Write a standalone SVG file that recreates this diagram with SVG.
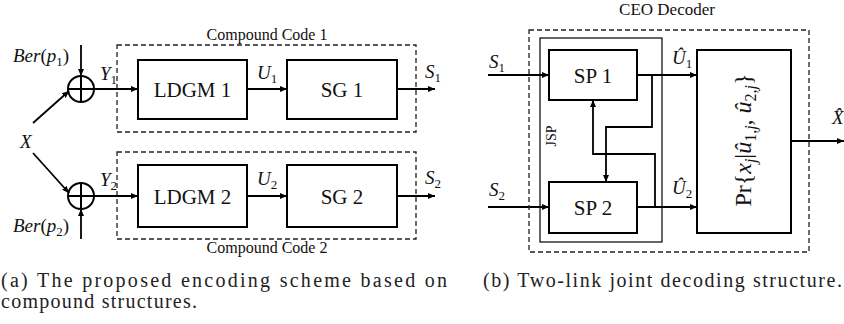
<svg xmlns="http://www.w3.org/2000/svg" width="844" height="324" viewBox="0 0 844 324">
<style>
.box{fill:none;stroke:#000;stroke-width:2}
.dash{fill:none;stroke:#222;stroke-width:1.3;stroke-dasharray:5 3}
.thin{fill:none;stroke:#000;stroke-width:1.2}
.wire{fill:none;stroke:#000;stroke-width:1.8}
.t{font-family:"Liberation Serif","DejaVu Serif",serif;fill:#111}
.m{font-family:"Liberation Serif","DejaVu Serif",serif;font-style:italic;fill:#111}
.u{font-style:normal}
.cap{font-family:"Liberation Serif","DejaVu Serif",serif;fill:#222;font-size:20px}
</style>
<defs>
<marker id="ah" markerUnits="userSpaceOnUse" markerWidth="7" markerHeight="6" refX="7" refY="3" orient="auto">
<path d="M0,0 L7,3 L0,6 z" fill="#000"/>
</marker>
</defs>

<!-- Encoder -->
<g id="compound1">
<rect class="dash" x="117" y="45" width="299" height="87"/>
<text class="t" x="267" y="40" font-size="16" text-anchor="middle">Compound Code 1</text>
</g>
<g id="compound2">
<rect class="dash" x="117" y="152" width="299" height="87"/>
<text class="t" x="267" y="253" font-size="16" text-anchor="middle">Compound Code 2</text>
</g>
<g id="ldgm1">
<rect class="box" x="138" y="60" width="109" height="59"/>
<text class="t" x="192.5" y="97" font-size="21" text-anchor="middle">LDGM 1</text>
</g>
<g id="sg1">
<rect class="box" x="287" y="60" width="110" height="59"/>
<text class="t" x="342" y="97" font-size="21" text-anchor="middle">SG 1</text>
</g>
<g id="ldgm2">
<rect class="box" x="138" y="165" width="109" height="62"/>
<text class="t" x="192.5" y="204" font-size="21" text-anchor="middle">LDGM 2</text>
</g>
<g id="sg2">
<rect class="box" x="287" y="165" width="110" height="62"/>
<text class="t" x="342" y="204" font-size="21" text-anchor="middle">SG 2</text>
</g>
<g id="xor1">
<circle class="box" cx="81" cy="89" r="13"/>
<path class="box" d="M68,89 H94 M81,76 V102"/>
</g>
<g id="xor2">
<circle class="box" cx="81" cy="196" r="13"/>
<path class="box" d="M68,196 H94 M81,183 V209"/>
</g>
<g id="ber1"><text class="m" x="13" y="62" font-size="19">Ber<tspan class="u">(</tspan>p<tspan font-size="13" dy="4" class="u">1</tspan><tspan dy="-4" class="u">)</tspan></text></g>
<g id="ber2"><text class="m" x="13" y="232" font-size="19">Ber<tspan class="u">(</tspan>p<tspan font-size="13" dy="4" class="u">2</tspan><tspan dy="-4" class="u">)</tspan></text></g>
<g id="x"><text class="m" x="20" y="148" font-size="19">X</text></g>

<g id="connectors">
<line class="wire" x1="81" y1="45" x2="81" y2="76" marker-end="url(#ah)"/>
<line class="wire" x1="81" y1="239" x2="81" y2="209" marker-end="url(#ah)"/>
<line class="wire" x1="33" y1="123" x2="69" y2="91" marker-end="url(#ah)"/>
<line class="wire" x1="33" y1="153" x2="69" y2="193" marker-end="url(#ah)"/>
<line class="wire" x1="94" y1="89" x2="138" y2="89" marker-end="url(#ah)"/>
<line class="wire" x1="247" y1="89" x2="287" y2="89" marker-end="url(#ah)"/>
<line class="wire" x1="397" y1="89" x2="435" y2="89" marker-end="url(#ah)"/>
<line class="wire" x1="94" y1="196" x2="138" y2="196" marker-end="url(#ah)"/>
<line class="wire" x1="247" y1="196" x2="287" y2="196" marker-end="url(#ah)"/>
<line class="wire" x1="397" y1="196" x2="435" y2="196" marker-end="url(#ah)"/>

<line class="wire" x1="488" y1="75" x2="549" y2="75" marker-end="url(#ah)"/>
<line class="wire" x1="637" y1="75" x2="697" y2="75" marker-end="url(#ah)"/>
<line class="wire" x1="488" y1="207" x2="549" y2="207" marker-end="url(#ah)"/>
<line class="wire" x1="637" y1="207" x2="697" y2="207" marker-end="url(#ah)"/>
<polyline class="wire" points="652,75 652,127 606,127 606,182" marker-end="url(#ah)"/>
<polyline class="wire" points="655,207 655,154 593,154 593,100" marker-end="url(#ah)"/>
<line class="wire" x1="791" y1="141" x2="844" y2="141" marker-end="url(#ah)"/>
</g>

<g id="edge-labels">
<text class="m" x="100" y="80" font-size="19">Y<tspan class="u" font-size="13" dy="4">1</tspan></text>
<text class="m" x="100" y="186" font-size="19">Y<tspan class="u" font-size="13" dy="4">2</tspan></text>
<text class="m" x="257" y="79" font-size="19">U<tspan class="u" font-size="13" dy="4">1</tspan></text>
<text class="m" x="257" y="185" font-size="19">U<tspan class="u" font-size="13" dy="4">2</tspan></text>
<text class="m" x="425" y="78" font-size="19">S<tspan class="u" font-size="13" dy="4">1</tspan></text>
<text class="m" x="425" y="184" font-size="19">S<tspan class="u" font-size="13" dy="4">2</tspan></text>
<text class="m" x="489" y="68" font-size="19">S<tspan class="u" font-size="13" dy="4">1</tspan></text>
<text class="m" x="489" y="196" font-size="19">S<tspan class="u" font-size="13" dy="4">2</tspan></text>
<text class="m" x="672" y="64" font-size="19">Û<tspan class="u" font-size="13" dy="4">1</tspan></text>
<text class="m" x="672" y="194" font-size="19">Û<tspan class="u" font-size="13" dy="4">2</tspan></text>
<text class="m" x="832" y="124" font-size="19">X̂</text>
</g>

<!-- Decoder -->
<g id="ceo">
<rect class="dash" x="529" y="30" width="280" height="222"/>
<text class="t" x="667" y="15" font-size="17" text-anchor="middle">CEO Decoder</text>
</g>
<g id="jsp">
<rect class="thin" x="540" y="38" width="122" height="204"/>
<text class="t" transform="translate(556,136) rotate(-90)" font-size="14" text-anchor="middle">JSP</text>
</g>
<g id="sp1">
<rect class="box" x="549" y="50" width="88" height="50"/>
<text class="t" x="593" y="83" font-size="21" text-anchor="middle">SP 1</text>
</g>
<g id="sp2">
<rect class="box" x="549" y="182" width="88" height="51"/>
<text class="t" x="593" y="215" font-size="21" text-anchor="middle">SP 2</text>
</g>
<g id="pr">
<rect class="box" x="697" y="50" width="94" height="183"/>
<text class="t" transform="translate(751,140) rotate(-90)" font-size="24" text-anchor="middle">Pr{<tspan class="m">x</tspan><tspan class="m" font-size="16" dy="5">j</tspan><tspan dy="-5">|</tspan><tspan class="m">û</tspan><tspan font-size="16" dy="5">1,<tspan class="m">j</tspan></tspan><tspan dy="-5">, </tspan><tspan class="m">û</tspan><tspan font-size="16" dy="5">2,<tspan class="m">j</tspan></tspan><tspan dy="-5">}</tspan></text>
</g>

<g id="captions">
<text class="cap" x="1" y="287" textLength="446" lengthAdjust="spacing">(a) The proposed encoding scheme based on</text>
<text class="cap" x="1" y="308" textLength="196" lengthAdjust="spacing">compound structures.</text>
<text class="cap" x="483" y="287" textLength="359" lengthAdjust="spacing">(b) Two-link joint decoding structure.</text>
</g>
</svg>
